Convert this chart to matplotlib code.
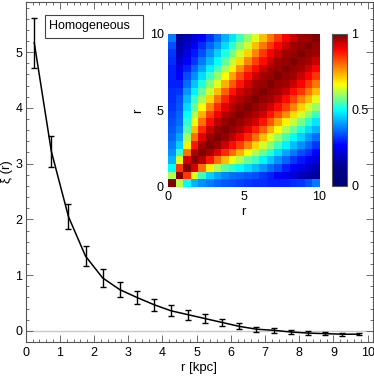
import numpy as np
import matplotlib
matplotlib.use("Agg")
import matplotlib.pyplot as plt
from matplotlib.colors import LinearSegmentedColormap
from matplotlib.ticker import MultipleLocator
from matplotlib.patches import Rectangle

plt.rcParams['font.family'] = ['Liberation Sans', 'DejaVu Sans']

# binned correlation function
r_bins = [0.25, 0.75, 1.25, 1.75, 2.25, 2.75, 3.25, 3.75, 4.25, 4.75,
          5.25, 5.75, 6.25, 6.75, 7.25, 7.75, 8.25, 8.75, 9.25, 9.75]
xi = [5.17, 3.22, 2.05, 1.34, 0.95, 0.74, 0.60, 0.47, 0.36, 0.29,
      0.22, 0.15, 0.08, 0.03, 0.01, -0.02, -0.04, -0.05, -0.06, -0.06]
xi_err = [0.45, 0.28, 0.22, 0.18, 0.16, 0.135, 0.12, 0.105, 0.095, 0.09,
          0.075, 0.07, 0.055, 0.048, 0.04, 0.036, 0.03, 0.027, 0.024, 0.02]

# correlation matrix between bins (row = y bin, col = x bin)
corr = [
    [1.00, .62, .50, .43, .40, .38, .36, .35, .34, .33, .32, .31, .31, .30, .30, .30, .31, .32, .34, .38],
    [.62, 1.00, .85, .65, .54, .46, .42, .39, .37, .36, .35, .34, .32, .30, .27, .25, .22, .19, .17, .15],
    [.50, .85, 1.00, .93, .80, .68, .61, .56, .53, .50, .47, .44, .41, .37, .34, .30, .27, .24, .21, .18],
    [.43, .65, .93, 1.00, .96, .88, .80, .73, .66, .62, .57, .54, .49, .45, .40, .36, .32, .29, .26, .23],
    [.40, .54, .80, .96, 1.00, .97, .92, .86, .80, .74, .67, .61, .57, .52, .47, .42, .38, .34, .31, .27],
    [.38, .46, .68, .88, .97, 1.00, .98, .94, .89, .84, .78, .71, .64, .59, .54, .49, .44, .40, .36, .32],
    [.36, .42, .61, .80, .92, .98, 1.00, .98, .95, .91, .86, .80, .73, .65, .60, .55, .50, .46, .41, .37],
    [.35, .39, .56, .73, .86, .94, .98, 1.00, .98, .96, .92, .87, .81, .74, .67, .61, .57, .52, .47, .43],
    [.34, .37, .53, .66, .80, .89, .95, .98, 1.00, .98, .96, .93, .88, .82, .75, .68, .63, .58, .53, .48],
    [.33, .36, .50, .62, .74, .84, .91, .96, .98, 1.00, .98, .96, .93, .88, .83, .77, .70, .64, .59, .54],
    [.32, .35, .47, .57, .67, .78, .86, .92, .96, .98, 1.00, .98, .96, .93, .89, .84, .78, .71, .64, .60],
    [.31, .34, .44, .54, .61, .71, .80, .87, .93, .96, .98, 1.00, .98, .97, .94, .89, .84, .78, .73, .65],
    [.31, .32, .41, .49, .57, .64, .73, .81, .88, .93, .96, .98, 1.00, .98, .97, .94, .89, .85, .79, .73],
    [.30, .30, .37, .45, .52, .59, .65, .74, .82, .88, .93, .97, .98, 1.00, .98, .97, .94, .90, .85, .79],
    [.30, .27, .34, .40, .47, .54, .60, .67, .75, .83, .89, .94, .97, .98, 1.00, .98, .97, .94, .90, .85],
    [.30, .25, .30, .36, .42, .49, .55, .61, .68, .77, .84, .89, .94, .97, .98, 1.00, .98, .97, .94, .90],
    [.31, .22, .27, .32, .38, .44, .50, .57, .63, .70, .78, .84, .89, .94, .97, .98, 1.00, .98, .97, .94],
    [.32, .19, .24, .29, .34, .40, .46, .52, .58, .64, .71, .78, .85, .90, .94, .97, .98, 1.00, .98, .97],
    [.34, .17, .21, .26, .31, .36, .41, .47, .53, .59, .64, .73, .79, .85, .90, .94, .97, .98, 1.00, .98],
    [.38, .15, .18, .23, .27, .32, .37, .43, .48, .54, .60, .65, .73, .79, .85, .90, .94, .97, .98, 1.00],
]

# IDL-like rainbow
cmap = LinearSegmentedColormap.from_list("idl_rainbow", [
    (0.0, (0.0, 0.0, 0.45)),
    (0.13, (0.0, 0.0, 0.55)),
    (0.27, (0.0, 0.0, 1.0)),
    (0.5, (0.0, 1.0, 1.0)),
    (0.67, (1.0, 1.0, 0.0)),
    (0.9, (1.0, 0.0, 0.0)),
    (1.0, (0.5, 0.0, 0.0)),
])

fs = 9
fig = plt.figure(figsize=(3.74, 3.78), dpi=100)
ax = fig.add_axes([25.7/374, 36/378, 347/374, 340/378])

ax.axhline(0, color='#c8c8c8', lw=1.0, zorder=1)
ax.errorbar(r_bins, xi, yerr=xi_err, color='black', lw=1.1, elinewidth=1.0,
            capsize=2, capthick=1.0, zorder=3)

ax.set_xlim(0, 10.15)
ax.set_ylim(-0.2, 5.9)
ax.xaxis.set_major_locator(MultipleLocator(1))
ax.xaxis.set_minor_locator(MultipleLocator(0.2))
ax.yaxis.set_major_locator(MultipleLocator(1))
ax.yaxis.set_minor_locator(MultipleLocator(0.2))
ax.tick_params(which='both', direction='in', top=True, right=True,
               labelsize=fs, color='#555555', width=0.6)
ax.tick_params(which='major', length=5)
ax.tick_params(which='minor', length=2.5)
ax.tick_params(axis='y', pad=2.5)
for s in ax.spines.values():
    s.set_color('#555555')
    s.set_linewidth(0.8)
ax.set_xlabel('r [kpc]', fontsize=fs + 0.5, labelpad=2)
ax.set_ylabel('ξ (r)', fontsize=fs + 0.5)
ax.yaxis.set_label_coords(-0.036, 0.5)

# label box
ax.add_patch(Rectangle((0.0556, 0.894), 0.2824, 0.068, transform=ax.transAxes,
                       fc='white', ec='#444444', lw=0.8, zorder=4))
ax.text(0.068, 0.928, 'Homogeneous', transform=ax.transAxes, fontsize=fs,
        va='center', ha='left', zorder=5)

# inset correlation matrix
axi = fig.add_axes([168/374, (378-187)/378, 151/374, 153/378])
im = axi.imshow(np.array(corr), cmap=cmap, vmin=0, vmax=1, origin='lower',
                extent=[0, 10, 0, 10], aspect='auto', interpolation='nearest')
axi.set_xticks([0, 5, 10])
axi.set_yticks([0, 5, 10])
axi.tick_params(length=0, labelsize=fs, pad=3)
for s in axi.spines.values():
    s.set_visible(False)
axi.set_xlabel('r', fontsize=fs + 0.5, labelpad=2)
axi.set_ylabel('r', fontsize=fs + 0.5, labelpad=4)

cax = fig.add_axes([332/374, (378-186)/378, 15/374, 152/378])
cb = fig.colorbar(im, cax=cax, ticks=[0, 0.5, 1])
cb.ax.set_yticklabels(['0', '0.5', '1'])
cb.ax.tick_params(length=0, labelsize=fs, pad=3)
cb.outline.set_edgecolor('#555555')
cb.outline.set_linewidth(0.8)

fig.savefig('out.png', dpi=100)
